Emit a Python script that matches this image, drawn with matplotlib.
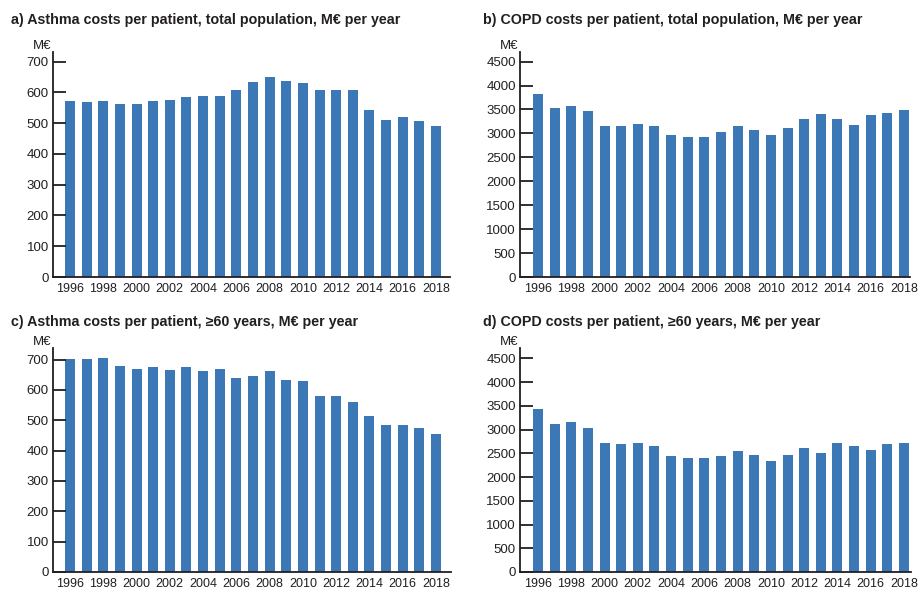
import matplotlib
matplotlib.use('Agg')
import matplotlib.pyplot as plt

plt.rcParams['font.family'] = ['Liberation Sans', 'DejaVu Sans']

years = list(range(1996, 2019))

asthma_total = [572, 567, 572, 562, 562, 573, 574, 584, 587, 588, 608, 635,
                649, 637, 631, 606, 609, 607, 542, 510, 521, 508, 490]
copd_total = [3833, 3526, 3575, 3470, 3164, 3150, 3192, 3150, 2962, 2934, 2934, 3024,
              3164, 3073, 2969, 3122, 3296, 3408, 3310, 3185, 3387, 3436, 3484]
asthma_60 = [701, 701, 704, 679, 668, 677, 664, 675, 661, 668, 640, 645,
             661, 632, 628, 581, 580, 561, 514, 484, 483, 475, 456]
copd_60 = [3427, 3111, 3168, 3041, 2719, 2698, 2719, 2663, 2453, 2411, 2397, 2446,
           2551, 2474, 2341, 2474, 2607, 2516, 2726, 2663, 2572, 2691, 2712]

titles = ['a) Asthma costs per patient, total population, M\u20ac per year',
          'b) COPD costs per patient, total population, M\u20ac per year',
          'c) Asthma costs per patient, \u226560 years, M\u20ac per year',
          'd) COPD costs per patient, \u226560 years, M\u20ac per year']

bar_color = '#3c77b6'
ink = '#231f20'

fig = plt.figure(figsize=(9.21, 5.92), dpi=100)

W, H = 921, 592
# (left, bottom, right, top) in pixels
boxes = [(53, 277, 450, 52), (520, 277, 910, 52),
         (53, 572, 451, 348), (520, 572, 911, 348)]
panels = [
    (asthma_total, 731, range(0, 701, 100), (1994.98, 2018.84)),
    (copd_total, 4700, range(0, 4501, 500), (1994.92, 2018.36)),
    (asthma_60, 738, range(0, 701, 100), (1994.98, 2018.9)),
    (copd_60, 4717, range(0, 4501, 500), (1994.92, 2018.42)),
]
title_pos = [(11, 20), (483, 20), (11, 322), (483, 322)]

for i, (vals, ytop, yt, xl) in enumerate(panels):
    l, b, r, t = boxes[i]
    ax = fig.add_axes([l / W, 1 - b / H, (r - l) / W, (b - t) / H])
    ax.bar(years, vals, width=0.6, color=bar_color)
    ax.set_ylim(0, ytop)
    ax.set_xlim(*xl)
    ax.set_yticks(list(yt))
    ax.set_xticks(years[::2])
    ax.set_xticklabels([str(y) for y in years[::2]])
    for s in ['top', 'right']:
        ax.spines[s].set_visible(False)
    for s in ['left', 'bottom']:
        ax.spines[s].set_color(ink)
        ax.spines[s].set_linewidth(1.3)
    ax.tick_params(axis='y', direction='in', length=9, width=1.3, color=ink,
                   labelsize=9.5, labelcolor=ink, pad=3)
    ax.tick_params(axis='x', length=0, labelsize=9, labelcolor=ink, pad=4)
    # unit label sitting above the y axis
    ax.text(-0.005, 1.0, 'M\u20ac', transform=ax.transAxes, ha='right', va='bottom',
            fontsize=9.5, color=ink)
    tx, ty = title_pos[i]
    fig.text(tx / W, 1 - ty / H, titles[i], ha='left', va='center',
             fontsize=10.3, fontweight='bold', color=ink)

fig.savefig('out.png', dpi=100)
